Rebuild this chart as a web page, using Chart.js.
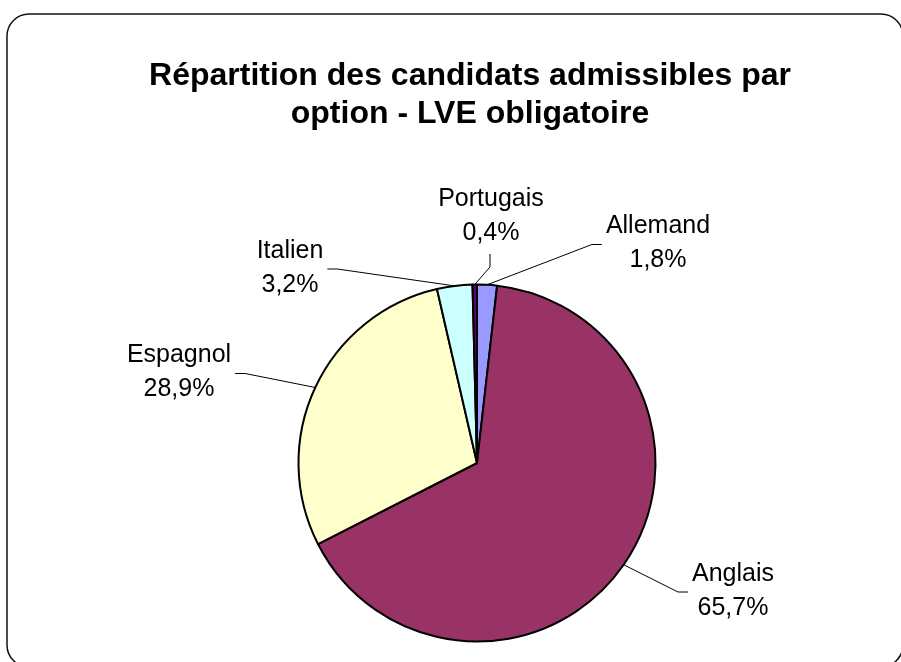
<!DOCTYPE html>
<html>
<head>
<meta charset="utf-8">
<script src="https://cdn.jsdelivr.net/npm/chart.js@4/dist/chart.umd.min.js"></script>
<style>
  html, body { margin: 0; padding: 0; background: #fff; }
  #wrap { width: 901px; height: 662px; }
</style>
</head>
<body>
<div id="wrap"><canvas id="c" width="901" height="662"></canvas></div>
<script>
// Données : répartition des candidats admissibles (LVE obligatoire)
const TITLE_LINES = ['Répartition des candidats admissibles par', 'option - LVE obligatoire'];
const LANGUES = ['Allemand', 'Anglais', 'Espagnol', 'Italien', 'Portugais'];
const PARTS = [1.8, 65.7, 28.9, 3.2, 0.4];
const COULEURS = ['#9999FF', '#993366', '#FFFFCC', '#CCFFFF', '#660066'];

const FONT = '"Liberation Sans", Arial, Helvetica, sans-serif';
const fmt = v => v.toFixed(1).replace('.', ',') + '%';

// Fond blanc et cadre aux coins arrondis
const cadre = {
  id: 'cadre',
  beforeDraw(chart) {
    const ctx = chart.ctx;
    ctx.save();
    ctx.fillStyle = '#fff';
    ctx.fillRect(0, 0, chart.width, chart.height);
    const x = 7, y = 14, w = 896, h = 653, r = 22;
    ctx.beginPath();
    ctx.moveTo(x + r, y);
    ctx.arcTo(x + w, y, x + w, y + h, r);
    ctx.arcTo(x + w, y + h, x, y + h, r);
    ctx.arcTo(x, y + h, x, y, r);
    ctx.arcTo(x, y, x + w, y, r);
    ctx.closePath();
    ctx.lineWidth = 1.5;
    ctx.strokeStyle = '#111';
    ctx.stroke();
    ctx.restore();
  }
};

// Titre sur deux lignes
const titre = {
  id: 'titre',
  afterDraw(chart, args, opts) {
    const ctx = chart.ctx;
    ctx.save();
    ctx.font = 'bold 32px ' + FONT;
    ctx.fillStyle = '#000';
    ctx.textAlign = 'center';
    ctx.textBaseline = 'alphabetic';
    TITLE_LINES.forEach((t, k) => ctx.fillText(t, opts.x, opts.y + k * opts.lineHeight));
    ctx.restore();
  }
};

// Étiquettes (nom + pourcentage) avec traits de rappel
const etiquettes = {
  id: 'etiquettes',
  afterDatasetsDraw(chart, args, opts) {
    const ctx = chart.ctx;
    const meta = chart.getDatasetMeta(0);
    const ds = chart.data.datasets[0];
    ctx.save();
    ctx.font = opts.font;
    ctx.fillStyle = '#000';
    ctx.strokeStyle = '#000';
    ctx.lineWidth = 1;
    ctx.textAlign = 'center';
    ctx.textBaseline = 'middle';
    const lh = opts.lineHeight;
    meta.data.forEach((arc, i) => {
      const p = arc.getProps(['x', 'y', 'startAngle', 'endAngle', 'outerRadius'], true);
      const mid = (p.startAngle + p.endAngle) / 2;
      const ex = p.x + Math.cos(mid) * p.outerRadius;
      const ey = p.y + Math.sin(mid) * p.outerRadius;
      const [ox, oy] = opts.offsets[i];
      const cx = p.x + ox, cy = p.y + oy;
      const lines = [chart.data.labels[i], fmt(ds.data[i])];
      const w = Math.max(...lines.map(t => ctx.measureText(t).width));
      let pts;
      if (opts.anchors[i] === 'bottom') {
        const lx = cx - 1, ly = cy + lh + 4;
        pts = [[lx, ly], [lx, ly + 13], [ex, ey]];
      } else {
        const dir = ox > 0 ? -1 : 1;
        const lx = cx + dir * (w / 2 + 4);
        pts = [[lx, cy + 1], [lx + dir * 10, cy + 1], [ex, ey]];
      }
      ctx.beginPath();
      ctx.moveTo(pts[0][0], pts[0][1]);
      for (let k = 1; k < pts.length; k++) ctx.lineTo(pts[k][0], pts[k][1]);
      ctx.stroke();
      lines.forEach((t, k) => ctx.fillText(t, cx, cy + (k - 0.5) * lh));
    });
    ctx.restore();
  }
};

new Chart(document.getElementById('c'), {
  type: 'pie',
  data: {
    labels: LANGUES,
    datasets: [{
      data: PARTS,
      backgroundColor: COULEURS,
      borderColor: '#000',
      borderWidth: 2,
      hoverBorderWidth: 2,
      hoverOffset: 0
    }]
  },
  options: {
    responsive: false,
    devicePixelRatio: 1,
    animation: false,
    events: [],
    layout: { padding: { left: 60, right: 7, top: 283.5, bottom: 19.5 } },
    plugins: {
      legend: { display: false },
      tooltip: { enabled: false },
      title: { display: false },
      titre: { x: 470, y: 85, lineHeight: 38 },
      etiquettes: {
        font: '25px ' + FONT,
        lineHeight: 34,
        offsets: [[181, -219.5], [256, 128], [-298, -90.5], [-187, -195], [14, -247]],
        anchors: ['side', 'side', 'side', 'side', 'bottom']
      }
    }
  },
  plugins: [cadre, titre, etiquettes]
});
</script>
</body>
</html>
